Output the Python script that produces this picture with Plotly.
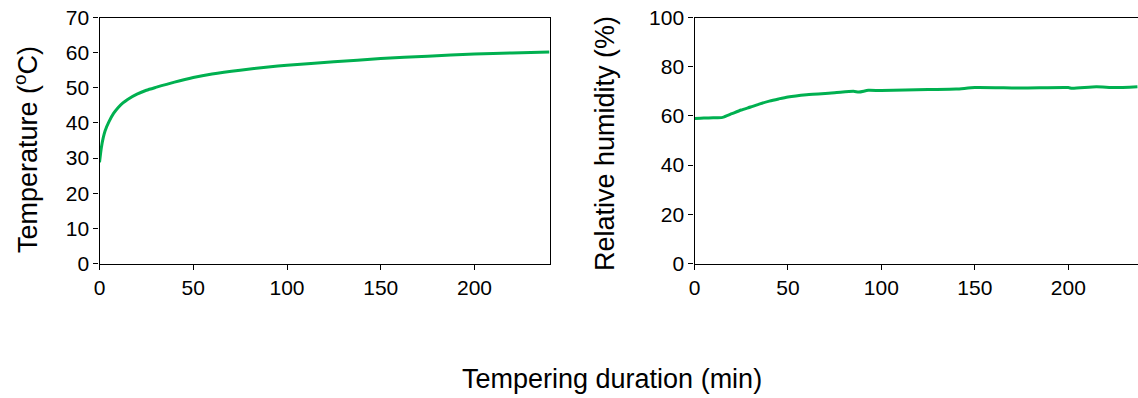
import plotly.graph_objects as go

# Temperature curve (left panel)
temp_time = [0, 0.5, 1, 2, 3, 5, 7.5, 10, 12.5, 15, 20, 25, 30, 40, 50, 60, 75, 90, 100, 125, 150, 175, 200, 220, 240]
temp_vals = [28.8, 31.0, 33.0, 35.8, 37.8, 40.3, 42.7, 44.4, 45.7, 46.7, 48.2, 49.3, 50.1, 51.6, 52.9, 53.9, 55.0, 55.9, 56.4, 57.4, 58.3, 59.0, 59.6, 59.9, 60.2]

# Relative humidity curve (right panel)
rh_time = [0, 5, 10, 15, 20, 25, 30, 35, 40, 45, 50, 60, 75, 85, 88, 93, 100, 125, 140, 150, 175, 200, 202, 215, 225, 237]
rh_vals = [58.9, 59.1, 59.2, 59.4, 60.9, 62.4, 63.6, 64.9, 66.0, 66.9, 67.7, 68.6, 69.4, 70.0, 69.7, 70.4, 70.3, 70.7, 70.9, 71.5, 71.3, 71.5, 71.2, 71.8, 71.5, 71.9]

temp_ticks = [0, 10, 20, 30, 40, 50, 60, 70]
rh_ticks = [0, 20, 40, 60, 80, 100]
x_ticks = [0, 50, 100, 150, 200]

GREEN = "#00B050"
W, H = 1138, 398
FONT = "Liberation Sans, Arial, sans-serif"

fig = go.Figure()
fig.add_trace(go.Scatter(x=temp_time, y=temp_vals, mode="lines", line=dict(color=GREEN, width=3, shape="spline", smoothing=0.6),
                         xaxis="x", yaxis="y", showlegend=False))
fig.add_trace(go.Scatter(x=rh_time, y=rh_vals, mode="lines", line=dict(color=GREEN, width=3, shape="spline", smoothing=0.6),
                         xaxis="x2", yaxis="y2", showlegend=False))

def px(x):
    return x / W

def py(y):
    return (H - y) / H

axis_common = dict(showgrid=False, zeroline=False, showline=True, linecolor="black", linewidth=1.3,
                   ticks="outside", ticklen=5, tickcolor="black", tickwidth=1.3, automargin=False,
                   tickfont=dict(family=FONT, size=21, color="black"))

ydom = [py(263.5), py(17.5)]
fig.update_layout(
    width=W, height=H,
    margin=dict(l=0, r=0, t=0, b=0, autoexpand=False),
    paper_bgcolor="white", plot_bgcolor="white",
    xaxis=dict(domain=[px(99.5), px(549.5)], range=[0, 240], tickvals=x_ticks, anchor="y", mirror=True, **axis_common),
    yaxis=dict(domain=ydom, range=[0, 70], tickvals=temp_ticks, anchor="x", mirror=True, **axis_common),
    xaxis2=dict(domain=[px(694.5), 1.0], range=[0, 237.3], tickvals=x_ticks, anchor="y2", mirror=True, **axis_common),
    yaxis2=dict(domain=ydom, range=[0, 100], tickvals=rh_ticks, anchor="x2", mirror=True, **axis_common),
    annotations=[
        dict(text="Tempering duration (min)", x=px(612), y=py(379), xref="paper", yref="paper",
             showarrow=False, xanchor="center", yanchor="middle", font=dict(family=FONT, size=27, color="black")),
        dict(text="Temperature (<sup>o</sup>C)", x=px(26), y=py(150), xref="paper", yref="paper", textangle=-90,
             showarrow=False, xanchor="center", yanchor="middle", font=dict(family=FONT, size=27, color="black")),
        dict(text="Relative humidity (%)", x=px(605), y=py(144), xref="paper", yref="paper", textangle=-90,
             showarrow=False, xanchor="center", yanchor="middle", font=dict(family=FONT, size=27, color="black")),
    ],
)

fig.write_html("out.html", config={"displayModeBar": False},
               post_script="document.body.style.margin='0';document.body.style.overflow='hidden';")
